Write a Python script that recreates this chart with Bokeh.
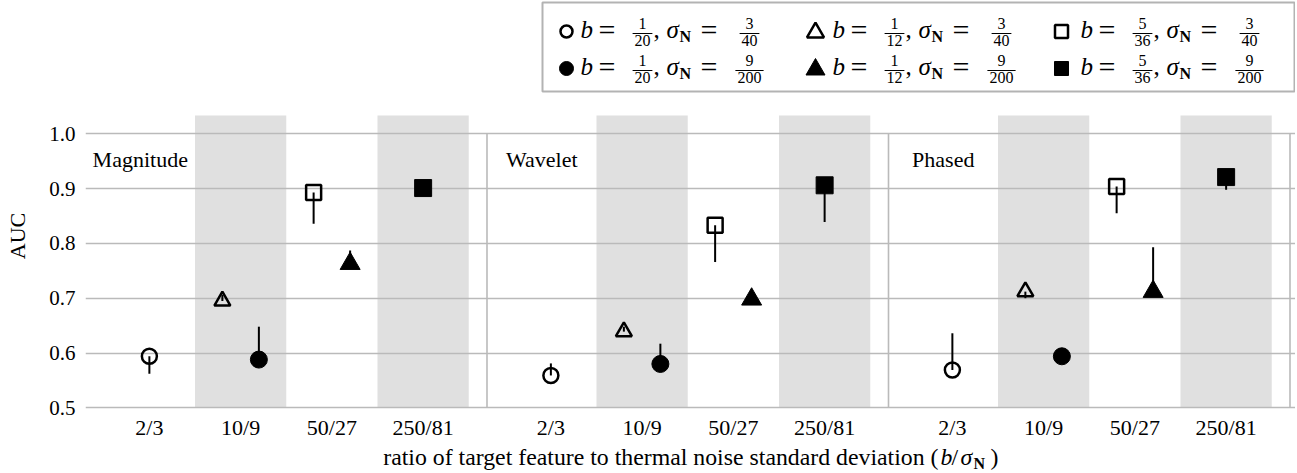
from bokeh.plotting import figure
from bokeh.models import Range1d, FixedTicker
from bokeh.core.properties import value
from bokeh.embed import file_html
from bokeh.resources import INLINE

# ---------------- data ----------------
panels = ["Magnitude", "Wavelet", "Phased"]
ratio_labels = ["2/3", "10/9", "50/27", "250/81"]
shaded_ratios = ["10/9", "250/81"]
y_ticks = [0.5, 0.6, 0.7, 0.8, 0.9, 1.0]

# legend parameters of each series: b = b_num/b_den, sigma_N = s_num/s_den
series_names = ["circle_open", "circle_filled", "triangle_open",
                "triangle_filled", "square_open", "square_filled"]
b_num = ["1", "1", "1", "1", "5", "5"]
b_den = ["20", "20", "12", "12", "36", "36"]
s_num = ["3", "9", "3", "9", "3", "9"]
s_den = ["40", "200", "40", "200", "40", "200"]
series_ratio = ["2/3", "10/9", "10/9", "50/27", "50/27", "250/81"]

# AUC per panel (Magnitude, Wavelet, Phased) and end of the one-sided bar
auc_circle_open = [0.594, 0.559, 0.569]
end_circle_open = [0.562, 0.581, 0.636]
auc_circle_filled = [0.588, 0.580, 0.594]
end_circle_filled = [0.648, 0.617, 0.594]
auc_triangle_open = [0.695, 0.639, 0.712]
end_triangle_open = [0.706, 0.648, 0.700]
auc_triangle_filled = [0.763, 0.698, 0.712]
end_triangle_filled = [0.787, 0.698, 0.793]
auc_square_open = [0.893, 0.833, 0.904]
end_square_open = [0.836, 0.766, 0.855]
auc_square_filled = [0.901, 0.906, 0.921]
end_square_filled = [0.901, 0.839, 0.898]

auc = [auc_circle_open, auc_circle_filled, auc_triangle_open,
       auc_triangle_filled, auc_square_open, auc_square_filled]
ends = [end_circle_open, end_circle_filled, end_triangle_open,
        end_triangle_filled, end_square_open, end_square_filled]

# ---------------- styles / layout ----------------
FONT = "Liberation Serif"
GRID = "#bababa"
BAND = "#e0e0e0"
PANEL_W = 4.4          # width of one panel in x units
PAD = 0.7
styles = {
    "circle_open":     dict(marker="circle",   filled=False, size=15, dx=0.0),
    "circle_filled":   dict(marker="circle",   filled=True,  size=17, dx=0.2),
    "triangle_open":   dict(marker="triangle", filled=False, size=16, dx=-0.2),
    "triangle_filled": dict(marker="triangle", filled=True,  size=20, dx=0.2),
    "square_open":     dict(marker="square",   filled=False, size=15, dx=-0.2),
    "square_filled":   dict(marker="square",   filled=True,  size=17, dx=0.0),
}

W, H = 1295, 471
FL = 85                      # frame left in page px (frame top = 0)
FW = W - FL
SX = 91.25
XL = -PAD
XR = XL + FW / SX
SY = 548.0
YT = 1.0 + 133.3 / SY
YB = YT - H / SY
MID = 0.35                   # baseline -> visual middle, in em


def dx(px):
    return XL + (px - FL) / SX


def dy(py):
    return YT - py / SY


p = figure(width=W, height=H, x_range=Range1d(XL, XR), y_range=Range1d(YB, YT),
           output_backend="svg", toolbar_location=None, x_axis_location=None,
           min_border_left=FL, min_border_right=0, min_border_top=0,
           min_border_bottom=0, outline_line_color=None,
           background_fill_color="white", border_fill_color="white")
p.xgrid.visible = False
p.ygrid.visible = False

ax = p.yaxis[0]
ax.ticker = FixedTicker(ticks=y_ticks)
ax.major_label_overrides = {t: f"{t:.1f}" for t in y_ticks}
ax.axis_line_color = None
ax.major_tick_line_color = None
ax.minor_tick_line_color = None
ax.major_tick_out = 0
ax.major_label_standoff = 10
ax.major_label_text_font = FONT
ax.major_label_text_font_size = "21px"
ax.major_label_text_color = "black"
ax.axis_label = "AUC"
ax.axis_label_text_font = FONT
ax.axis_label_text_font_size = "22px"
ax.axis_label_text_font_style = "normal"
ax.axis_label_text_color = "black"
ax.axis_label_standoff = 16


def put(px, py, s, size, style="normal", align="left"):
    """py is the text baseline in page px."""
    p.text(x=[dx(px)], y=[dy(py - MID * size)], text=[s], text_font=value(FONT),
           text_font_size=value(f"{size}px"), text_font_style=value(style),
           text_align=value(align), text_baseline=value("middle"), text_color="black")


def xpos(panel_i, cat):
    return panel_i * PANEL_W + ratio_labels.index(cat)


# shaded bands
band_top = dy(115)
bl, br = [], []
for pi in range(len(panels)):
    for c in shaded_ratios:
        bl.append(xpos(pi, c) - 0.5)
        br.append(xpos(pi, c) + 0.5)
p.quad(left=bl, right=br, bottom=y_ticks[0], top=band_top, fill_color=BAND, line_color=None)

# grid lines and panel separators
p.hspan(y=y_ticks, line_color=GRID, line_width=1.6)
seps = [(pi + 1) * PANEL_W - PAD for pi in range(len(panels))]
p.segment(x0=seps, y0=y_ticks[0], x1=seps, y1=y_ticks[-1], line_color=GRID, line_width=1.6)

# panel names
p.text(x=[pi * PANEL_W - 0.1 for pi in range(len(panels))],
       y=[dy(167 - MID * 22)] * len(panels), text=panels, text_font=value(FONT),
       text_font_size=value("22px"), text_align="center", text_baseline="middle",
       text_color="black")

# x tick labels
tx, tt = [], []
for pi in range(len(panels)):
    for c in ratio_labels:
        tx.append(xpos(pi, c))
        tt.append(c)
p.text(x=tx, y=[dy(435 - MID * 22)] * len(tx), text=tt, text_font=value(FONT),
       text_font_size=value("22px"), text_align="center", text_baseline="middle",
       text_color="black")

# data: bars then markers
for si, name in enumerate(series_names):
    st = styles[name]
    xs = [xpos(pi, series_ratio[si]) + st["dx"] for pi in range(len(panels))]
    p.segment(x0=xs, y0=auc[si], x1=xs, y1=ends[si], line_color="black", line_width=2)
    p.scatter(x=xs, y=auc[si], marker=st["marker"], size=st["size"],
              fill_color="black" if st["filled"] else None, line_color="black",
              line_width=1 if st["filled"] else 2.5)

# x axis title
base = 465
put(938, base, "ratio of target feature to thermal noise standard deviation (", 23.8,
    align="right")
put(940, base, "b", 23.8, style="italic")
put(951, base, "/", 23.8)
put(960, base, "σ", 23.8, style="italic")
put(973, base + 4, "N", 16, style="bold")
put(990, base, ")", 23.8)

# legend
p.quad(left=dx(542), right=dx(1294), top=dy(2), bottom=dy(91), fill_color="white",
       line_color="#b3b3b3", line_width=2)
col_marker_x = [566, 815, 1061]
col_b_x = [580, 832, 1080]
row_base = [38, 75]
leg_sizes = {"circle": (12, 14), "triangle": (17, 19), "square": (13, 14)}
for si, name in enumerate(series_names):
    st = styles[name]
    c, r = si // 2, si % 2
    by = row_base[r]
    my = by - 7 if st["marker"] != "triangle" else by - 6
    s_open, s_fill = leg_sizes[st["marker"]]
    p.scatter(x=[dx(col_marker_x[c])], y=[dy(my)], marker=st["marker"],
              size=s_fill if st["filled"] else s_open,
              fill_color="black" if st["filled"] else None, line_color="black",
              line_width=1 if st["filled"] else 2.5)
    bx = col_b_x[c]
    put(bx, by, "b", 25, style="italic")
    put(bx + 18, by + 1, "=", 30)
    for fx, num, den in ((bx + 62, b_num[si], b_den[si]), (bx + 169, s_num[si], s_den[si])):
        put(fx, by - 9, num, 16, align="center")
        put(fx, by + 8, den, 16, align="center")
        hw = max(len(num), len(den)) * 4.2 + 1.5
        p.segment(x0=[dx(fx - hw)], y0=[dy(by - 5)], x1=[dx(fx + hw)], y1=[dy(by - 5)],
                  line_color="black", line_width=1)
    put(bx + 73, by, ",", 25)
    put(bx + 86, by, "σ", 25, style="italic")
    put(bx + 99, by + 4, "N", 16, style="bold")
    put(bx + 120, by + 1, "=", 30)

open("out.html", "w").write(file_html(p, INLINE))
